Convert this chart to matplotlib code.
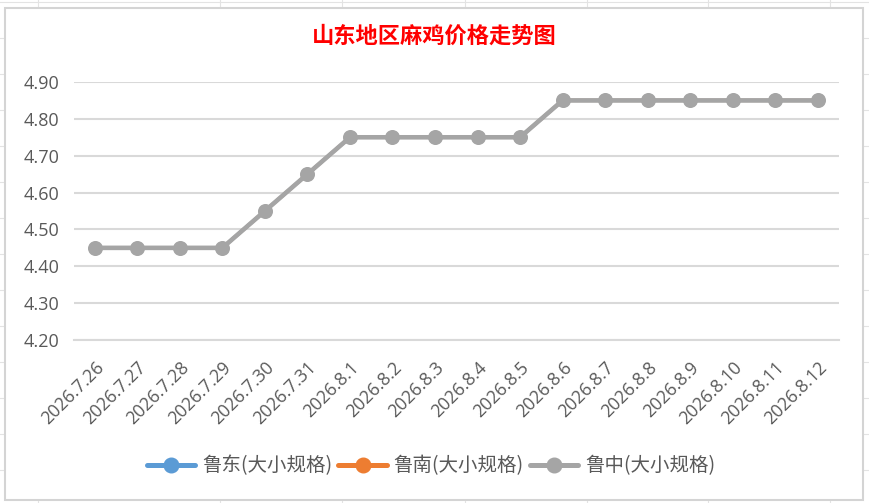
import matplotlib
matplotlib.use("Agg")
import matplotlib.pyplot as plt
from matplotlib.lines import Line2D
from matplotlib.patches import Rectangle

plt.rcParams['font.family'] = ['Noto Sans CJK SC', 'DejaVu Sans']

dates = ["2026.7.26", "2026.7.27", "2026.7.28", "2026.7.29", "2026.7.30", "2026.7.31",
         "2026.8.1", "2026.8.2", "2026.8.3", "2026.8.4", "2026.8.5", "2026.8.6",
         "2026.8.7", "2026.8.8", "2026.8.9", "2026.8.10", "2026.8.11", "2026.8.12"]
ludong = [4.45, 4.45, 4.45, 4.45, 4.55, 4.65, 4.75, 4.75, 4.75, 4.75, 4.75, 4.85,
          4.85, 4.85, 4.85, 4.85, 4.85, 4.85]
lunan = [4.45, 4.45, 4.45, 4.45, 4.55, 4.65, 4.75, 4.75, 4.75, 4.75, 4.75, 4.85,
         4.85, 4.85, 4.85, 4.85, 4.85, 4.85]
luzhong = [4.45, 4.45, 4.45, 4.45, 4.55, 4.65, 4.75, 4.75, 4.75, 4.75, 4.75, 4.85,
           4.85, 4.85, 4.85, 4.85, 4.85, 4.85]
series_names = ["鲁东(大小规格)", "鲁南(大小规格)", "鲁中(大小规格)"]
yticks = [4.20, 4.30, 4.40, 4.50, 4.60, 4.70, 4.80, 4.90]
title = "山东地区麻鸡价格走势图"

W, H = 869, 503
fig = plt.figure(figsize=(W / 100, H / 100), dpi=100)

# spreadsheet background grid
for xg in [38, 220, 342, 465, 587, 708, 830]:
    fig.add_artist(Line2D([xg / W, xg / W], [0, 1], color='#E3E3E3', lw=0.8, zorder=-3))
for yg in range(2, H, 36):
    fig.add_artist(Line2D([0, 1], [1 - yg / H, 1 - yg / H], color='#E3E3E3', lw=0.8, zorder=-3))
# chart area
fig.add_artist(Rectangle((5 / W, 1 - 500 / H), 858 / W, 492 / H, facecolor='white',
                         edgecolor='#D4D4D4', lw=1.5, zorder=-2))

ax = fig.add_axes([73.5 / W, 1 - 340 / H, (839 - 73.5) / W, (340 - 82) / H])
ax.set_facecolor('none')
x = list(range(len(dates)))
colors = ['#5B9BD5', '#ED7D31', '#A5A5A5']
widths = [2.4, 2.4, 3.3]
msizes = [8.0, 8.0, 9.8]
for vals, c, name, lw, ms in zip([ludong, lunan, luzhong], colors, series_names, widths, msizes):
    ax.plot(x, vals, color=c, lw=lw, marker='o', markersize=ms, label=name,
            solid_capstyle='round')
ax.set_xlim(-0.5, len(dates) - 0.5)
ax.set_ylim(4.20, 4.90)
ax.set_yticks(yticks)
ax.set_yticklabels([f"{v:.2f}" for v in yticks], fontsize=13, color='#595959',
                   family=['Open Sans', 'DejaVu Sans'])
ax.set_xticks(x)
ax.set_xticklabels(dates, rotation=45, ha='right', va='top', rotation_mode='anchor',
                   fontsize=12.8, color='#595959', family=['Open Sans', 'DejaVu Sans'])
ax.tick_params(axis='both', length=0)
ax.tick_params(axis='y', pad=10)
ax.tick_params(axis='x', pad=13)
ax.grid(axis='y', color='#D9D9D9', lw=1.5)
ax.set_axisbelow(True)
for s in ['left', 'right', 'top']:
    ax.spines[s].set_visible(False)
ax.spines['bottom'].set_color('#D9D9D9')
ax.spines['bottom'].set_linewidth(1.5)

fig.text(434 / W, 1 - 36 / H, title, ha='center', va='center', fontsize=16,
         fontweight='bold', color='#FF0000')

leg = fig.legend(loc='center', bbox_to_anchor=(431 / W, 1 - 466 / H), ncol=3,
                 frameon=False, fontsize=14, handlelength=2.5, columnspacing=0.3,
                 handletextpad=0.35, labelcolor='#595959')
for ln in leg.get_lines():
    ln.set_linewidth(3.6)
    ln.set_markersize(10.5)

fig.savefig('out.png', dpi=100)
